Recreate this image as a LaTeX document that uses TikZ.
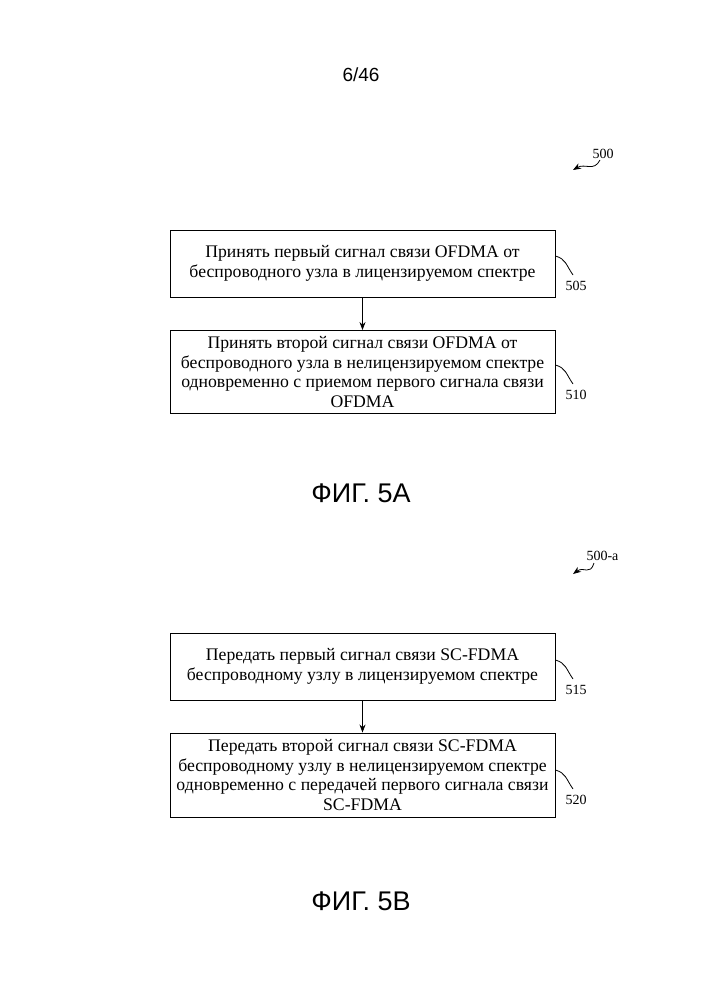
\documentclass[tikz,border=0pt]{standalone}
\usepackage{fontspec}
\setmainfont{Liberation Serif}
\newfontfamily\hdr{Liberation Sans}
\usetikzlibrary{arrows.meta}
\begin{document}
\begin{tikzpicture}[x=1pt,y=-1pt,
  boxst/.style={draw,line width=0.9pt,minimum width=385pt,align=center,font=\fontsize{17.7}{19.5}\selectfont,inner sep=2pt},
  lbl/.style={font=\fontsize{14}{16}\selectfont},
  lead/.style={line width=0.8pt},
  arr/.style={-{Stealth[length=8pt,width=6pt]},line width=0.8pt}]
\useasboundingbox (0,0) rectangle (707,1000);
\node[font=\hdr\fontsize{19}{22}\selectfont] (p) at (361,75) {6/46};
% Fig 5A
\node[lbl,anchor=west] (t500) at (589,154) {500};
\coordinate (a500) at (573,170);
\draw[arr] (600,160) .. controls (594,172) and (585,163) .. (a500);
\node[boxst,minimum height=67pt] (b1) at (362.5,263.5) {Принять первый сигнал связи OFDMA от\\беспроводного узла в лицензируемом спектре};
\node[boxst,minimum height=83pt] (b2) at (362.5,372) {Принять второй сигнал связи OFDMA от\\беспроводного узла в нелицензируемом спектре\\одновременно с приемом первого сигнала связи\\OFDMA};
\draw[arr] (b1) -- (b2);
\node[lbl] (l505) at (576,286) {505};
\draw[lead] (b1.east |- 0,256) .. controls (566,259) and (566,265) .. (573,275);
\node[lbl] (l510) at (576,395) {510};
\draw[lead] (b2.east |- 0,365) .. controls (566,368) and (566,374) .. (573,384);
\node[font=\hdr\fontsize{27}{30}\selectfont] (f5a) at (361,493) {ФИГ. 5А};
% Fig 5B
\node[lbl,anchor=west] (t500a) at (583,556) {500-a};
\coordinate (a500a) at (573,574);
\draw[arr] (594,563) .. controls (590,576) and (584,566) .. (a500a);
\node[boxst,minimum height=67pt] (b3) at (362.5,666.5) {Передать первый сигнал связи SC-FDMA\\беспроводному узлу в лицензируемом спектре};
\node[boxst,minimum height=84pt] (b4) at (362.5,775) {Передать второй сигнал связи SC-FDMA\\беспроводному узлу в нелицензируемом спектре\\одновременно с передачей первого сигнала связи\\SC-FDMA};
\draw[arr] (b3) -- (b4);
\node[lbl] (l515) at (576,690) {515};
\draw[lead] (b3.east |- 0,660) .. controls (566,663) and (566,669) .. (573,679);
\node[lbl] (l520) at (576,800) {520};
\draw[lead] (b4.east |- 0,770) .. controls (566,773) and (566,779) .. (573,789);
\node[font=\hdr\fontsize{27}{30}\selectfont] (f5b) at (361,901) {ФИГ. 5В};
\end{tikzpicture}
\end{document}
